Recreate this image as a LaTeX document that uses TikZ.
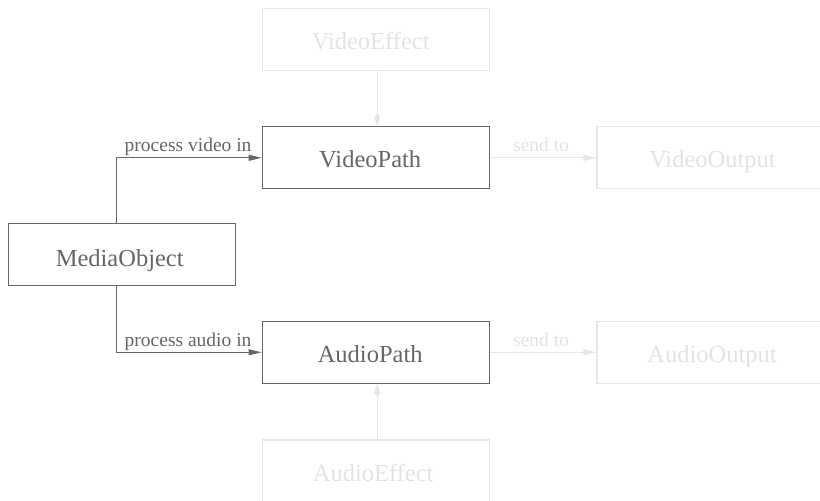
\documentclass[tikz,border=0pt]{standalone}
\usepackage{fontspec}
\setmainfont{Liberation Serif}
\usetikzlibrary{arrows.meta}
\definecolor{darkc}{HTML}{666666}
\definecolor{lightc}{HTML}{E6E6E6}
\definecolor{lighttext}{HTML}{E3E3E3}
\tikzset{
  boxbase/.style={rectangle, minimum width=227pt, minimum height=62pt, inner sep=0pt,
    font=\fontsize{24.5}{29}\selectfont, line width=1.1pt, text height=20pt, text depth=0pt},
  darkbox/.style={boxbase, draw=darkc, text=darkc},
  lightbox/.style={boxbase, draw=lightc, text=lighttext},
  darkarrow/.style={draw=darkc, line width=1pt, -{Triangle[length=13pt,width=6pt]}},
  lightarrow/.style={draw=lightc, line width=1pt, -{Triangle[length=13pt,width=6pt]}},
  effarrow/.style={draw=lightc, line width=1pt, -{Kite[length=13pt,width=6pt,inset=4pt]}},
  darklbl/.style={font=\fontsize{19.5}{23}\selectfont, text=darkc, inner sep=0pt},
  lightlbl/.style={font=\fontsize{19.5}{23}\selectfont, text=lighttext, inner sep=0pt},
}
\begin{document}
\begin{tikzpicture}[x=1pt, y=-1pt]
\useasboundingbox (0,0) rectangle (820,501);
\clip (0,0) rectangle (820,501);
\node[lightbox] (ve) at (375.7,39.3) {\hspace*{-10pt}VideoEffect};
\node[darkbox] (vp) at (375.7,157.8) {\hspace*{-11pt}VideoPath};
\node[lightbox] (vo) at (710.5,157.8) {\hspace*{4pt}VideoOutput};
\node[darkbox, text height=24pt] (mo) at (121.7,254.7) {\hspace*{-4pt}MediaObject};
\node[darkbox] (ap) at (375.7,352.3) {\hspace*{-11pt}AudioPath};
\node[lightbox] (ao) at (710.5,352.3) {\hspace*{3pt}AudioOutput};
\node[lightbox] (ae) at (375.7,471) {\hspace*{-5pt}AudioEffect};

\draw[darkarrow] ([xshift=-5.4pt]mo.north) |- (vp.west);
\draw[darkarrow] ([xshift=-5.4pt]mo.south) |- (ap.west);
\node[darklbl, anchor=base east] (lv) at ([xshift=-10pt,yshift=6.2pt]vp.west) {process video in};
\node[darklbl, anchor=base east] (la) at ([xshift=-10pt,yshift=6.2pt]ap.west) {process audio in};

\draw[lightarrow] (vp.east) -- node[lightlbl, anchor=base, yshift=6.2pt, xshift=-2pt] (sv) {send to} (vo.west);
\draw[lightarrow] (ap.east) -- node[lightlbl, anchor=base, yshift=6.2pt, xshift=-2pt] (sa) {send to} (ao.west);

\draw[effarrow] ([xshift=1.5pt]ve.south) -- ([xshift=1.5pt]vp.north);
\draw[effarrow] ([xshift=1.5pt]ae.north) -- ([xshift=1.5pt]ap.south);
\end{tikzpicture}
\end{document}
